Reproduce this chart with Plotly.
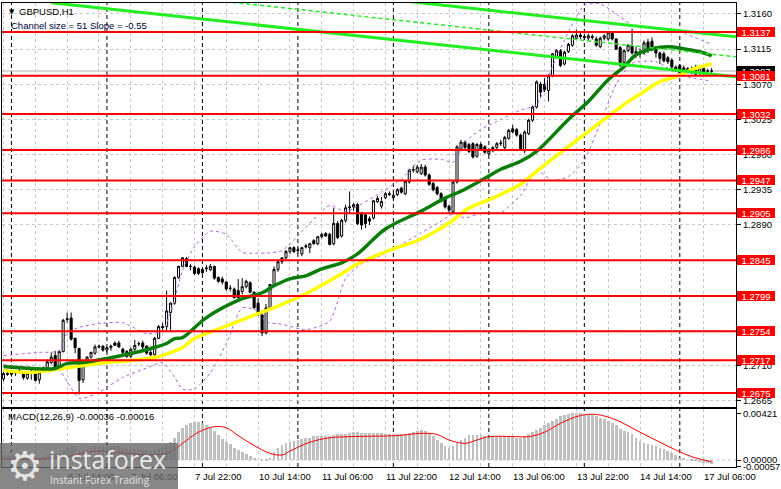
import plotly.graph_objects as go

# ---------------- DATA ----------------
bars = list(range(179))  # hourly bars, 5 Jul 22:00 ... 17 Jul 08:00

opens = [1.2693,1.2700,1.2699,1.2701,1.2704,1.2702,1.2694,1.2703,1.2703,1.2692,
         1.2703,1.2707,1.2714,1.2723,1.2710,1.2728,1.2770,1.2771,1.2745,1.2732,
         1.2692,1.2713,1.2721,1.2726,1.2735,1.2735,1.2730,1.2733,1.2739,1.2739,
         1.2731,1.2728,1.2722,1.2731,1.2738,1.2739,1.2735,1.2727,1.2724,1.2745,
         1.2760,1.2760,1.2778,1.2790,1.2823,1.2837,1.2847,1.2837,1.2836,1.2834,
         1.2833,1.2834,1.2833,1.2837,1.2823,1.2821,1.2817,1.2809,1.2808,1.2806,
         1.2805,1.2811,1.2816,1.2804,1.2790,1.2775,1.2752,1.2784,1.2814,1.2833,
         1.2843,1.2848,1.2856,1.2861,1.2857,1.2853,1.2862,1.2861,1.2870,1.2866,
         1.2875,1.2879,1.2878,1.2866,1.2892,1.2876,1.2896,1.2912,1.2913,1.2916,
         1.2905,1.2903,1.2898,1.2899,1.2920,1.2914,1.2925,1.2929,1.2925,1.2929,
         1.2937,1.2930,1.2945,1.2960,1.2958,1.2956,1.2964,1.2954,1.2943,1.2938,
         1.2930,1.2925,1.2914,1.2907,1.2945,1.2987,1.2996,1.2993,1.2994,1.2978,
         1.2993,1.2990,1.2981,1.2985,1.2989,1.2994,1.2989,1.3001,1.3013,1.3012,
         1.3005,1.2985,1.3007,1.3024,1.3041,1.3070,1.3070,1.3062,1.3081,1.3106,
         1.3113,1.3096,1.3112,1.3120,1.3129,1.3133,1.3131,1.3129,1.3131,1.3128,
         1.3118,1.3129,1.3128,1.3136,1.3128,1.3117,1.3098,1.3113,1.3119,1.3112,
         1.3109,1.3110,1.3124,1.3125,1.3117,1.3110,1.3109,1.3104,1.3101,1.3092,
         1.3094,1.3091,1.3086,1.3085,1.3092,1.3084,1.3090,1.3087,1.3087]
highs = [1.2702,1.2702,1.2703,1.2704,1.2706,1.2703,1.2702,1.2707,1.2705,1.2703,
         1.2709,1.2718,1.2727,1.2729,1.2730,1.2770,1.2778,1.2778,1.2746,1.2733,
         1.2714,1.2722,1.2728,1.2737,1.2737,1.2736,1.2734,1.2737,1.2741,1.2742,
         1.2733,1.2730,1.2733,1.2743,1.2741,1.2742,1.2736,1.2730,1.2747,1.2762,
         1.2765,1.2806,1.2791,1.2824,1.2838,1.2849,1.2849,1.2840,1.2838,1.2836,
         1.2835,1.2839,1.2840,1.2838,1.2824,1.2824,1.2818,1.2813,1.2810,1.2821,
         1.2822,1.2820,1.2818,1.2805,1.2796,1.2777,1.2789,1.2814,1.2837,1.2845,
         1.2849,1.2858,1.2862,1.2863,1.2861,1.2862,1.2866,1.2867,1.2872,1.2876,
         1.2880,1.2881,1.2880,1.2912,1.2895,1.2898,1.2916,1.2933,1.2918,1.2918,
         1.2907,1.2905,1.2901,1.2922,1.2927,1.2926,1.2932,1.2933,1.2930,1.2937,
         1.2939,1.2947,1.2962,1.2966,1.2967,1.2968,1.2967,1.2956,1.2945,1.2940,
         1.2932,1.2927,1.2916,1.2946,1.2992,1.2999,1.2998,1.2995,1.2996,1.2995,
         1.2996,1.2992,1.2987,1.2991,1.2996,1.2999,1.3004,1.3013,1.3018,1.3014,
         1.3007,1.3011,1.3026,1.3043,1.3075,1.3073,1.3078,1.3083,1.3110,1.3115,
         1.3115,1.3113,1.3123,1.3134,1.3140,1.3136,1.3135,1.3135,1.3134,1.3131,
         1.3131,1.3134,1.3138,1.3137,1.3129,1.3119,1.3115,1.3121,1.3141,1.3118,
         1.3116,1.3126,1.3128,1.3130,1.3119,1.3112,1.3112,1.3106,1.3103,1.3094,
         1.3096,1.3094,1.3092,1.3093,1.3095,1.3093,1.3092,1.3090,1.3091]
lows = [1.2690,1.2697,1.2696,1.2697,1.2700,1.2692,1.2692,1.2692,1.2690,1.2687,
        1.2701,1.2705,1.2712,1.2706,1.2705,1.2727,1.2765,1.2742,1.2726,1.2673,
        1.2688,1.2712,1.2719,1.2724,1.2732,1.2728,1.2727,1.2729,1.2735,1.2733,
        1.2725,1.2720,1.2720,1.2729,1.2735,1.2731,1.2724,1.2722,1.2723,1.2744,
        1.2756,1.2755,1.2755,1.2788,1.2821,1.2836,1.2836,1.2832,1.2826,1.2826,
        1.2827,1.2830,1.2831,1.2820,1.2816,1.2814,1.2806,1.2805,1.2796,1.2796,
        1.2801,1.2809,1.2803,1.2783,1.2774,1.2748,1.2750,1.2782,1.2812,1.2830,
        1.2840,1.2846,1.2853,1.2854,1.2853,1.2850,1.2860,1.2854,1.2865,1.2864,
        1.2873,1.2875,1.2864,1.2864,1.2872,1.2874,1.2893,1.2904,1.2908,1.2890,
        1.2884,1.2886,1.2890,1.2897,1.2918,1.2911,1.2923,1.2927,1.2923,1.2927,
        1.2930,1.2928,1.2943,1.2957,1.2956,1.2954,1.2952,1.2940,1.2933,1.2928,
        1.2919,1.2911,1.2905,1.2904,1.2943,1.2985,1.2987,1.2982,1.2975,1.2976,
        1.2985,1.2981,1.2979,1.2983,1.2987,1.2991,1.2987,1.2999,1.3007,1.3003,
        1.2985,1.2982,1.3005,1.3022,1.3039,1.3053,1.3060,1.3048,1.3079,1.3104,
        1.3092,1.3094,1.3110,1.3118,1.3127,1.3128,1.3127,1.3126,1.3127,1.3118,
        1.3116,1.3126,1.3126,1.3126,1.3114,1.3092,1.3096,1.3111,1.3108,1.3104,
        1.3104,1.3108,1.3110,1.3112,1.3104,1.3096,1.3098,1.3096,1.3090,1.3086,
        1.3084,1.3086,1.3084,1.3083,1.3082,1.3082,1.3082,1.3085,1.3083]
closes = [1.2700,1.2699,1.2701,1.2701,1.2702,1.2695,1.2700,1.2702,1.2691,1.2701,
          1.2707,1.2715,1.2721,1.2708,1.2728,1.2768,1.2769,1.2744,1.2733,1.2691,
          1.2713,1.2721,1.2727,1.2734,1.2734,1.2730,1.2733,1.2735,1.2736,1.2734,
          1.2727,1.2722,1.2731,1.2736,1.2738,1.2734,1.2726,1.2724,1.2745,1.2760,
          1.2759,1.2780,1.2790,1.2823,1.2837,1.2848,1.2837,1.2837,1.2828,1.2828,
          1.2829,1.2835,1.2837,1.2822,1.2818,1.2817,1.2808,1.2809,1.2797,1.2797,
          1.2811,1.2818,1.2804,1.2784,1.2775,1.2752,1.2784,1.2814,1.2833,1.2843,
          1.2848,1.2856,1.2861,1.2856,1.2858,1.2861,1.2863,1.2866,1.2866,1.2875,
          1.2878,1.2876,1.2865,1.2892,1.2874,1.2896,1.2912,1.2913,1.2916,1.2892,
          1.2890,1.2892,1.2895,1.2921,1.2924,1.2920,1.2930,1.2930,1.2928,1.2935,
          1.2932,1.2946,1.2960,1.2961,1.2964,1.2964,1.2954,1.2942,1.2935,1.2930,
          1.2921,1.2913,1.2909,1.2945,1.2990,1.2996,1.2989,1.2984,1.2977,1.2993,
          1.2987,1.2983,1.2985,1.2989,1.2994,1.2995,1.3002,1.3011,1.3009,1.3005,
          1.2987,1.3009,1.3024,1.3041,1.3073,1.3060,1.3063,1.3081,1.3109,1.3113,
          1.3094,1.3111,1.3121,1.3132,1.3133,1.3131,1.3130,1.3132,1.3130,1.3120,
          1.3129,1.3132,1.3136,1.3128,1.3115,1.3094,1.3113,1.3120,1.3110,1.3108,
          1.3109,1.3123,1.3115,1.3116,1.3110,1.3103,1.3100,1.3099,1.3092,1.3088,
          1.3085,1.3087,1.3090,1.3089,1.3083,1.3091,1.3084,1.3087,1.3087]

# moving averages (bar, price)
ma_green_bar = [0,7,13,16,20,26,32,37,41,43,45,51,60,65,68,72,76,80,85,89,96,105,111,
                115,121,125,130,134,142,147,152,156,159,163,167,171,175,178]
ma_green = [1.27090,1.27065,1.27065,1.27129,1.27141,1.27192,1.27256,1.27320,1.27384,
            1.27447,1.27460,1.27715,1.27957,1.28033,1.28122,1.28211,1.28250,1.28339,
            1.28415,1.28530,1.28848,1.29078,1.29243,1.29332,1.29498,1.29613,1.29715,
            1.29842,1.30250,1.30479,1.30759,1.30925,1.31078,1.31154,1.31180,1.31154,
            1.31116,1.31065]
ma_yellow_bar = [0,7,13,20,26,32,38,42,45,48,55,64,68,76,85,89,98,105,112,117,123,130,
                 134,151,157,161,165,169,173,178]
ma_yellow = [1.27040,1.27014,1.27052,1.27103,1.27141,1.27167,1.27205,1.27269,1.27333,
             1.27447,1.27587,1.27766,1.27842,1.28020,1.28275,1.28403,1.28594,1.28721,
             1.28925,1.29116,1.29243,1.29422,1.29587,1.30250,1.30479,1.30606,1.30734,
             1.30797,1.30887,1.30963]

# Bollinger bands (dashed violet), read at selected bars
bb_up_bar = [0,9,14,16,19,24,30,36,40,43,45,48,52,56,60,64,66,70,76,82,86,90,95,100,
             105,110,113,116,120,125,130,134,138,142,146,150,154,158,164,170,178]
bb_up = [1.2723,1.2727,1.2729,1.2752,1.2759,1.2764,1.2765,1.2751,1.2755,1.2795,
         1.2832,1.2862,1.2882,1.2878,1.2855,1.2854,1.2854,1.2857,1.2887,1.2915,
         1.2907,1.2917,1.2932,1.2949,1.2973,1.2974,1.2970,1.2996,1.3012,1.3025,
         1.3037,1.3044,1.3093,1.3137,1.3171,1.3173,1.3160,1.3146,1.3141,1.3137,1.3121]
bb_lo_bar = [0,9,14,16,19,24,30,36,40,43,45,48,52,56,60,64,66,70,76,82,86,90,95,100,
             105,110,113,116,120,125,130,134,138,142,146,150,154,158,164,170,178]
bb_lo = [1.2711,1.2707,1.2704,1.2690,1.2668,1.2676,1.2695,1.2707,1.2714,1.2695,
         1.2680,1.2680,1.2701,1.2738,1.2784,1.2780,1.2766,1.2763,1.2756,1.2767,
         1.2822,1.2840,1.2851,1.2865,1.2880,1.2895,1.2904,1.2899,1.2905,1.2906,
         1.2928,1.2960,1.2947,1.2952,1.2973,1.3020,1.3070,1.3097,1.3099,1.3082,1.3074]

# regression channel (start bar, end bar) and its prices at both ends
chan_bar = [12, 184.1]
chan_upper = [1.32254, 1.31307]
chan_mid = [1.31999, 1.31052]
chan_lower = [1.31744, 1.30797]

levels = [1.3137, 1.3081, 1.3032, 1.2986, 1.2947, 1.2905, 1.2845, 1.2799, 1.2754, 1.2717, 1.2675]
last_price = 1.3087
price_ticks = [1.2665, 1.2710, 1.2755, 1.2800, 1.2845, 1.2890, 1.2935, 1.2980, 1.3025, 1.3070, 1.3115, 1.3160]

macd_hist = [0.0004,0.0004,0.0004,0.0004,0.0004,0.0003,0.0003,0.0003,0.0002,0.0002,
             0.0003,0.0004,0.0005,0.0005,0.0006,0.0009,0.0011,0.0012,0.0012,0.0009,
             0.0009,0.0010,0.0011,0.0012,0.0012,0.0012,0.0012,0.0012,0.0012,0.0012,
             0.0011,0.0010,0.0010,0.0010,0.0010,0.0010,0.0009,0.0008,0.0009,0.0010,
             0.0011,0.0013,0.0016,0.0020,0.0025,0.0029,0.0031,0.0033,0.0034,0.0034,
             0.0033,0.0031,0.0029,0.0026,0.0022,0.0019,0.0016,0.0014,0.0011,0.0009,
             0.0007,0.0005,0.0003,0.0001,0.0000,-0.0001,-0.0001,0.0002,0.0007,0.0011,
             0.0013,0.0015,0.0016,0.0017,0.0018,0.0019,0.0020,0.0020,0.0021,0.0021,
             0.0021,0.0021,0.0021,0.0022,0.0023,0.0023,0.0023,0.0024,0.0025,0.0025,
             0.0024,0.0024,0.0024,0.0024,0.0024,0.0024,0.0023,0.0023,0.0023,0.0023,
             0.0023,0.0023,0.0024,0.0025,0.0026,0.0027,0.0026,0.0024,0.0021,0.0018,
             0.0015,0.0012,0.0011,0.0012,0.0015,0.0018,0.0020,0.0022,0.0022,0.0022,
             0.0022,0.0021,0.0020,0.0021,0.0021,0.0021,0.0021,0.0021,0.0021,0.0020,
             0.0020,0.0021,0.0023,0.0025,0.0027,0.0029,0.0031,0.0033,0.0035,0.0037,
             0.0039,0.0040,0.0041,0.0042,0.00421,0.0042,0.0041,0.0041,0.0040,0.0039,
             0.0038,0.0037,0.0035,0.0033,0.0031,0.0028,0.0026,0.0025,0.0023,0.0020,
             0.0017,0.0015,0.0014,0.0013,0.0012,0.0011,0.0010,0.0008,0.0006,0.0004,
             0.0002,0.0001,0.0000,-0.0001,-0.0001,-0.0002,-0.0003,-0.0003,-0.00036]
signal_bar = [0,9,16,23,31,37,42,45,49,53,56,59,63,67,70,72,77,82,87,99,105,109,112,
              116,119,122,129,132,136,140,145,149,154,160,165,169,173,178]
signal = [0.0001,0.0001,0.0003,0.0008,0.0006,0.00045,0.0007,0.0015,0.0025,0.0030,
          0.0029,0.0022,0.0013,0.0006,0.00045,0.0008,0.0016,0.0020,0.0021,0.0022,
          0.0024,0.0023,0.0018,0.0015,0.0018,0.0021,0.0021,0.0021,0.0025,0.0033,
          0.0040,0.0041,0.0036,0.0025,0.0016,0.0009,0.0003,-0.00016]
macd_ticks = [0.00421, 0.0, -0.00057]
macd_ticktext = ["0.00421", "0.00000", "-0.00057"]

time_label_bar = [0, 16, 32, 48, 64, 80, 96, 112, 128, 144, 160, 176]
time_labels = ["5 Jul 2023", "6 Jul 14:00", "7 Jul 06:00", "7 Jul 22:00", "10 Jul 14:00",
               "11 Jul 06:00", "11 Jul 22:00", "12 Jul 14:00", "13 Jul 06:00",
               "13 Jul 22:00", "14 Jul 14:00", "17 Jul 06:00"]
day_start_bar = [2, 26, 50, 74, 98, 122, 146, 170]

# ---------------- LAYOUT HELPERS ----------------
W, H = 781, 489
ML, MR, MT, MB = 2, 41, 1, 22
PW, PH = W - ML - MR, H - MT - MB          # plot area in px
def px_x(px): return (px - ML) / PW
def px_y(py): return (H - MB - py) / PH
def price_at(py): return 1.3160 - (py - 12) / 7850.0
def macd_at(py): return (460 - py) / 11170.0
BAR_PX, BAR0_PX = 4.0, 3.5
x_range = [(ML - BAR0_PX) / BAR_PX, (ML + PW - BAR0_PX) / BAR_PX]

FONT = "Liberation Sans, Arial, sans-serif"
fig = go.Figure()

fig.add_trace(go.Candlestick(
    x=bars, open=opens, high=highs, low=lows, close=closes,
    increasing=dict(line=dict(color="black", width=1), fillcolor="white"),
    decreasing=dict(line=dict(color="black", width=1), fillcolor="black"),
    whiskerwidth=0, showlegend=False, hoverinfo="skip", xaxis="x", yaxis="y"))

violet = "#b45fe0"
fig.add_trace(go.Scatter(x=bb_up_bar, y=bb_up, mode="lines", line_shape="spline",
                         line=dict(color=violet, width=1, dash="3px,3px", smoothing=0.6), showlegend=False))
fig.add_trace(go.Scatter(x=bb_lo_bar, y=bb_lo, mode="lines", line_shape="spline",
                         line=dict(color=violet, width=1, dash="3px,3px", smoothing=0.6), showlegend=False))
fig.add_trace(go.Scatter(x=ma_yellow_bar, y=ma_yellow, mode="lines", line_shape="spline",
                         line=dict(color="#ffff00", width=3.5), showlegend=False))
fig.add_trace(go.Scatter(x=ma_green_bar, y=ma_green, mode="lines", line_shape="spline",
                         line=dict(color="#0a7d0a", width=3.5), showlegend=False))
lime = "#22ee22"
fig.add_trace(go.Scatter(x=chan_bar, y=chan_upper, mode="lines",
                         line=dict(color=lime, width=3), showlegend=False))
fig.add_trace(go.Scatter(x=chan_bar, y=chan_lower, mode="lines",
                         line=dict(color=lime, width=3), showlegend=False))
fig.add_trace(go.Scatter(x=chan_bar, y=chan_mid, mode="lines",
                         line=dict(color=lime, width=1.5, dash="4px,3px"), showlegend=False))

# MACD
fig.add_trace(go.Bar(x=bars, y=macd_hist, width=0.7, marker=dict(color="#c0c0c0", line=dict(width=0)),
                     showlegend=False, xaxis="x2", yaxis="y2", hoverinfo="skip"))
fig.add_trace(go.Scatter(x=signal_bar, y=signal, mode="lines", line=dict(color="red", width=1),
                         line_shape="spline", showlegend=False, xaxis="x2", yaxis="y2"))

shapes = []
for b in day_start_bar:
    shapes.append(dict(type="line", xref="x", yref="paper", x0=b, x1=b, y0=0, y1=1,
                       line=dict(color="black", width=1, dash="4px,3px"), layer="below"))
shapes.append(dict(type="line", xref="paper", yref="y", x0=0, x1=1, y0=last_price, y1=last_price,
                   line=dict(color="#b0b0b0", width=1), layer="below"))
shapes.append(dict(type="line", xref="paper", yref="y2", x0=0, x1=1, y0=0, y1=0,
                   line=dict(color="#c0c0c0", width=1, dash="3px,3px"), layer="below"))
for lv in levels:
    shapes.append(dict(type="line", xref="paper", yref="y", x0=0, x1=1, y0=lv, y1=lv,
                       line=dict(color="#ff0000", width=2), layer="above"))

ann = []
for b, t in zip(time_label_bar, time_labels):
    ann.append(dict(xref="x", yref="paper", x=b - 0.4, y=px_y(477), text=t, showarrow=False,
                    xanchor="left", yanchor="middle", font=dict(family=FONT, size=9.5, color="black")))
ann.append(dict(xref="paper", yref="y", x=1, xshift=1, y=last_price, text="1.3087", showarrow=False,
                xanchor="left", yanchor="middle", bgcolor="black", width=38, height=11, borderpad=0,
                borderwidth=0, font=dict(family=FONT, size=9.5, color="white")))
for lv in levels:
    ann.append(dict(xref="paper", yref="y", x=1, xshift=1, y=lv, text=f"{lv:.4f}", showarrow=False,
                    xanchor="left", yanchor="middle", bgcolor="#ff0000", width=38, height=10,
                    borderpad=0, borderwidth=0, font=dict(family=FONT, size=9.5, color="white")))
ann.append(dict(xref="paper", yref="paper", x=px_x(7), y=px_y(10), text="▼", showarrow=False,
                xanchor="left", yanchor="middle", font=dict(family="DejaVu Sans", size=7, color="black")))
ann.append(dict(xref="paper", yref="paper", x=px_x(17), y=px_y(10), text="GBPUSD,H1", showarrow=False,
                xanchor="left", yanchor="middle", font=dict(family=FONT, size=9.5, color="black")))
ann.append(dict(xref="paper", yref="paper", x=px_x(9), y=px_y(24), text="Channel size = 51 Slope = -0.55",
                showarrow=False, xanchor="left", yanchor="middle",
                font=dict(family=FONT, size=9.5, color="#000033")))
ann.append(dict(xref="paper", yref="paper", x=px_x(6), y=px_y(416), text="MACD(12,26,9) -0.00036 -0.00016",
                showarrow=False, xanchor="left", yanchor="middle", font=dict(family=FONT, size=9.5, color="black")))
# watermark
ann.append(dict(xref="paper", yref="paper", x=px_x(0), y=px_y(489), text=" ", showarrow=False,
                xanchor="left", yanchor="bottom", width=178, height=46, borderpad=0, borderwidth=0,
                bgcolor="rgba(105,105,105,0.80)"))
ann.append(dict(xref="paper", yref="paper", x=px_x(25), y=px_y(466), text="⚙", showarrow=False,
                xanchor="center", yanchor="middle", font=dict(family="DejaVu Sans", size=40, color="rgba(235,235,235,0.95)")))
ann.append(dict(xref="paper", yref="paper", x=px_x(47), y=px_y(459), text="instaforex", showarrow=False,
                xanchor="left", yanchor="middle", font=dict(family="Open Sans", size=25, color="rgba(240,240,240,0.95)")))
ann.append(dict(xref="paper", yref="paper", x=px_x(48), y=px_y(480), text="Instant Forex Trading", showarrow=False,
                xanchor="left", yanchor="middle", font=dict(family="Open Sans", size=10, color="rgba(240,240,240,0.95)")))

main_dom = [px_y(407), 1]
macd_dom = [0, px_y(409)]
axis_common = dict(showline=True, mirror=True, linecolor="black", linewidth=1, zeroline=False)
fig.update_layout(
    width=W, height=H, margin=dict(l=ML, r=MR, t=MT, b=MB),
    paper_bgcolor="white", plot_bgcolor="white", showlegend=False, boxgap=0.25,
    xaxis=dict(domain=[0, 1], range=x_range, anchor="y", rangeslider=dict(visible=False),
               tickmode="array", tickvals=list(range(0, 185, 8)), showticklabels=False, ticks="",
               showgrid=True, gridcolor="#c8c8c8", griddash="3px,3px", gridwidth=1, **axis_common),
    yaxis=dict(domain=main_dom, range=[price_at(407), price_at(MT)], anchor="x", side="right",
               tickmode="array", tickvals=price_ticks, ticktext=[f"{v:.4f}" for v in price_ticks],
               ticks="outside", ticklen=4, tickcolor="black",
               tickfont=dict(family=FONT, size=9.5, color="black"),
               showgrid=True, gridcolor="#c8c8c8", griddash="3px,3px", gridwidth=1, **axis_common),
    xaxis2=dict(domain=[0, 1], range=x_range, anchor="y2", matches="x",
                tickmode="array", tickvals=list(range(0, 185, 8)), showticklabels=False, ticks="",
                showgrid=True, gridcolor="#c8c8c8", griddash="3px,3px", gridwidth=1, **axis_common),
    yaxis2=dict(domain=macd_dom, range=[macd_at(H - MB), macd_at(409)], anchor="x2", side="right",
                tickmode="array", tickvals=macd_ticks, ticktext=macd_ticktext,
                ticks="outside", ticklen=4, tickcolor="black",
                tickfont=dict(family=FONT, size=9.5, color="black"), showgrid=False, **axis_common),
    shapes=shapes, annotations=ann, bargap=0,
)
fig.write_html("out.html", config={"displayModeBar": False},
               post_script="document.body.style.margin='0px';document.body.style.overflow='hidden';")
